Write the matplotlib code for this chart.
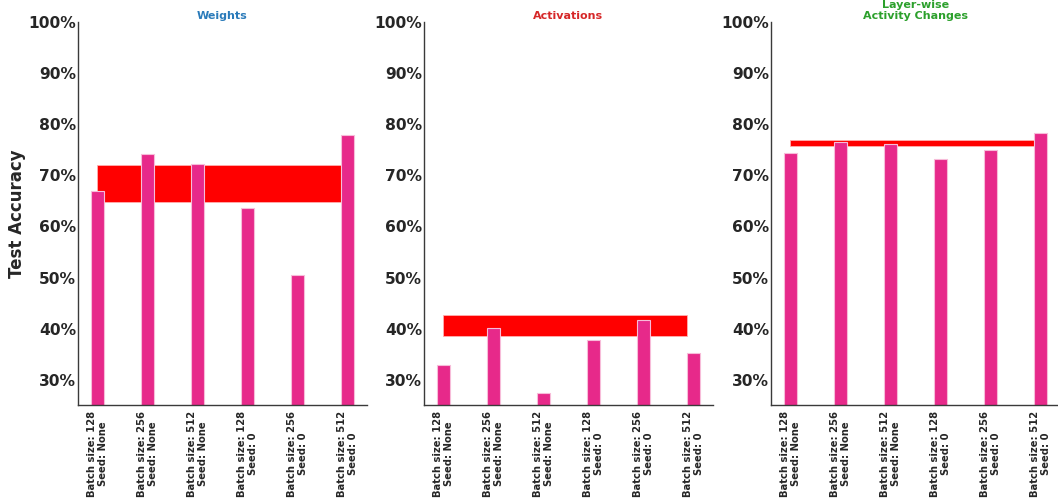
import matplotlib
matplotlib.use('Agg')
import matplotlib.pyplot as plt
import numpy as np

# bar labels shared by all panels
labels = ['Batch size: 128\nSeed: None', 'Batch size: 256\nSeed: None', 'Batch size: 512\nSeed: None',
          'Batch size: 128\nSeed: 0', 'Batch size: 256\nSeed: 0', 'Batch size: 512\nSeed: 0']

weights_acc = [67.0, 74.2, 72.2, 63.6, 50.5, 78.0]
activations_acc = [32.9, 40.1, 27.3, 37.7, 41.7, 35.2]
layerwise_acc = [74.4, 76.6, 76.2, 73.2, 74.9, 78.3]

# red band (low, high) per panel
weights_band = (64.8, 72.0)
activations_band = (38.6, 42.7)
layerwise_band = (75.8, 76.9)

titles = ['Weights', 'Activations', 'Layer-wise\nActivity Changes']
title_colors = ['#2b7bba', '#d62728', '#2ca02c']

TEXT = '#262626'
BAR_W = 0.25


def draw_panel(ax, values, band, title, title_color, show_ylabel):
    x = np.arange(len(values))
    ax.fill_between([x[0], x[-1] - BAR_W / 2], band[0], band[1], color='#ff0000',
                    edgecolor='#ffb0b0', linewidth=0.6, zorder=1)
    ax.bar(x, values, width=BAR_W, color='#e7298a', edgecolor='#f7bcd9', linewidth=0.8, zorder=2)
    ax.set_ylim(25, 100)
    ax.set_yticks(range(30, 101, 10))
    ax.set_yticklabels([f'{v}%' for v in range(30, 101, 10)], fontsize=11.2, fontweight='bold', color=TEXT)
    ax.set_xticks(x)
    ax.set_xticklabels(labels, rotation=90, fontsize=7.2, fontweight='bold', color=TEXT, ha='center', va='top',
                       multialignment='center')
    ax.tick_params(length=0, pad=4)
    ax.tick_params(axis='y', pad=1.5)
    ax.set_title(title, fontsize=8, fontweight='bold', color=title_color, pad=2)
    for s in ['top', 'right']:
        ax.spines[s].set_visible(False)
    for s in ['left', 'bottom']:
        ax.spines[s].set_color('#3a3a3a')
        ax.spines[s].set_linewidth(1.0)
    if show_ylabel:
        ax.set_ylabel('Test Accuracy', fontsize=12, fontweight='bold', color=TEXT)
        ax.yaxis.set_label_coords(-0.18, 0.5)


fig = plt.figure(figsize=(10.58, 5.04), dpi=100)
lefts = [0.0737, 0.4008, 0.7287]
data = [weights_acc, activations_acc, layerwise_acc]
bands = [weights_band, activations_band, layerwise_band]
for i in range(3):
    ax = fig.add_axes([lefts[i], 0.196, 0.273, 0.760])
    draw_panel(ax, data[i], bands[i], titles[i], title_colors[i], i == 0)

fig.savefig('out.png', dpi=100)
